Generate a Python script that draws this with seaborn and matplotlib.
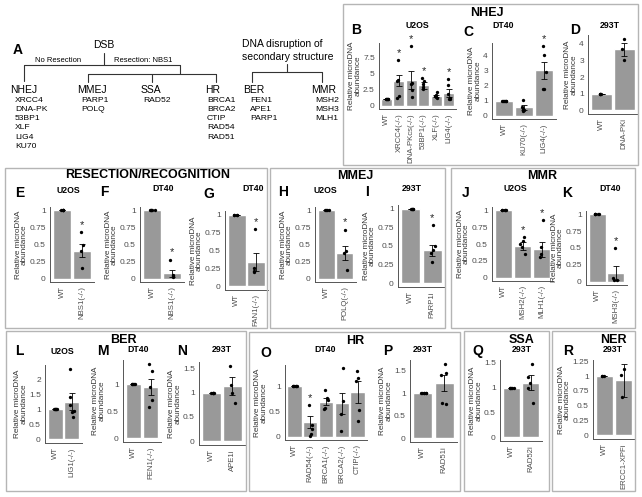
import warnings
import matplotlib
matplotlib.use("Agg")
import matplotlib.pyplot as plt
from matplotlib.lines import Line2D
from matplotlib.patches import Rectangle
import seaborn as sns
import pandas as pd
import numpy as np

warnings.filterwarnings("ignore")
np.random.seed(3)  # only for the horizontal jitter of the dots

# ---- data ----
# B: NHEJ, U2OS
b_labels = ["WT", "XRCC4(-/-)", "DNA-PKcs(-/-)", "53BP1(-/-)", "XLF(-/-)", "LIG4(-/-)"]
b_means = [1.0, 3.9, 4.0, 3.15, 1.55, 2.05]
b_sems = [0.0, 0.8, 1.4, 0.5, 0.2, 0.6]
b_points = [[1, 1, 1, 1, 1, 1], [7.0, 4.0, 3.8, 1.6, 1.3], [9.2, 3.6, 3.4, 2.4, 1.4],
            [4.3, 3.8, 3.3, 2.9, 2.6], [2.1, 1.7, 1.5, 1.4, 1.3], [4.1, 3.2, 1.8, 1.3, 1.1, 1.0]]
b_stars = [0, 1, 1, 1, 0, 1]
b_ticks = [0, 2.5, 5, 7.5]

# C: NHEJ, DT40
c_labels = ["WT", "KU70(-/-)", "LIG4(-/-)"]
c_means = [1.0, 0.55, 3.0]
c_sems = [0.0, 0.18, 0.55]
c_points = [[1, 1, 1, 1, 1, 1], [1.05, 0.6, 0.45, 0.35, 0.3], [4.6, 4.0, 2.9, 1.8, 1.8]]
c_stars = [0, 0, 1]
c_ticks = [0, 1, 2, 3, 4]

# D: NHEJ, 293T
d_labels = ["WT", "DNA-PKi"]
d_means = [1.0, 3.65]
d_sems = [0.0, 0.38]
d_points = [[1, 1, 1, 1], [4.3, 3.7, 3.0]]
d_stars = [0, 0]
d_ticks = [0, 1, 2, 3, 4]

# E-G: resection / recognition
e_labels = ["WT", "NBS1(-/-)"]
e_means = [1.0, 0.41]
e_sems = [0.0, 0.1]
e_points = [[1, 1, 1, 1, 1], [0.69, 0.5, 0.4, 0.15]]
e_stars = [0, 1]

f_labels = ["WT", "NBS1(-/-)"]
f_means = [1.0, 0.075]
f_sems = [0.0, 0.055]
f_points = [[1, 1, 1, 1, 1], [0.28, 0.05, 0.04, 0.02]]
f_stars = [0, 1]

g_labels = ["WT", "FAN1(-/-)"]
g_means = [1.0, 0.34]
g_sems = [0.0, 0.12]
g_points = [[1, 1, 1, 1], [0.8, 0.25, 0.22, 0.2]]
g_stars = [0, 1]

# H-I: MMEJ
h_labels = ["WT", "POLQ(-/-)"]
h_means = [1.0, 0.38]
h_sems = [0.0, 0.1]
h_points = [[1, 1, 1, 1], [0.72, 0.4, 0.37, 0.12]]
h_stars = [0, 1]

i_labels = ["WT", "PARP1i"]
i_means = [1.0, 0.44]
i_sems = [0.0, 0.07]
i_points = [[1, 1, 1, 1, 1], [0.78, 0.5, 0.45, 0.4, 0.28]]
i_stars = [0, 1]

# J-K: MMR
j_labels = ["WT", "MSH2(-/-)", "MLH1(-/-)"]
j_means = [1.0, 0.47, 0.42]
j_sems = [0.0, 0.06, 0.11]
j_points = [[1, 1, 1, 1, 1], [0.6, 0.55, 0.5, 0.45, 0.35], [0.85, 0.45, 0.35, 0.3]]
j_stars = [0, 1, 1]

k_labels = ["WT", "MSH3(-/-)"]
k_means = [1.0, 0.13]
k_sems = [0.0, 0.1]
k_points = [[1, 1, 1, 1, 1], [0.5, 0.05, 0.03, 0.02]]
k_stars = [0, 1]

frac_ticks = [0, 0.25, 0.5, 0.75, 1]

# L-N: BER
l_labels = ["WT", "LIG1(-/-)"]
l_means = [1.0, 1.25]
l_sems = [0.0, 0.28]
l_points = [[1, 1, 1, 1, 1, 1], [2.35, 1.4, 1.15, 0.95, 0.9, 0.75]]
l_ticks = [0, 0.5, 1, 1.5, 2]

m_labels = ["WT", "FEN1(-/-)"]
m_means = [1.0, 0.95]
m_sems = [0.0, 0.15]
m_points = [[1, 1, 1, 1, 1], [1.38, 1.25, 0.95, 0.7, 0.57]]
m_ticks = [0, 0.5, 1]

n_labels = ["WT", "APE1i"]
n_means = [1.0, 1.13]
n_sems = [0.0, 0.18]
n_points = [[1, 1, 1, 1, 1], [1.55, 1.15, 1.0, 0.78]]
n_ticks = [0, 0.5, 1, 1.5]

# O-P: HR
o_labels = ["WT", "RAD54(-/-)", "BRCA1(-/-)", "BRCA2(-/-)", "CTIP(-/-)"]
o_means = [1.0, 0.29, 0.69, 0.66, 0.89]
o_sems = [0.0, 0.12, 0.07, 0.21, 0.22]
o_points = [[1, 1, 1, 1, 1, 1], [0.63, 0.22, 0.15, 0.05, 0.02], [0.93, 0.77, 0.72, 0.55, 0.56],
            [1.35, 0.7, 0.45, 0.12], [1.3, 1.17, 1.1, 0.53, 0.3]]
o_stars = [0, 1, 0, 0, 0]
o_ticks = [0, 0.5, 1]

p_labels = ["WT", "RAD51i"]
p_means = [1.0, 1.22]
p_sems = [0.0, 0.18]
p_points = [[1, 1, 1, 1, 1, 1], [1.65, 1.45, 1.4, 0.78, 0.75]]
p_ticks = [0, 0.5, 1, 1.5]

# Q: SSA, R: NER
q_labels = ["WT", "RAD52i"]
q_means = [1.0, 1.1]
q_sems = [0.0, 0.15]
q_points = [[1, 1, 1, 1, 1], [1.48, 1.22, 1.1, 1.0, 0.68]]
q_ticks = [0, 0.5, 1, 1.5]

r_labels = ["WT", "ERCC1-XPFi"]
r_means = [1.0, 0.93]
r_sems = [0.0, 0.28]
r_points = [[1, 1, 1], [1.12, 1.02, 0.65]]
r_ticks = [0, 0.25, 0.5, 0.75, 1, 1.25]

# panel A tree text
nhej_genes = ["XRCC4", "DNA-PK", "53BP1", "XLF", "LIG4", "KU70"]
mmej_genes = ["PARP1", "POLQ"]
ssa_genes = ["RAD52"]
hr_genes = ["BRCA1", "BRCA2", "CTIP", "RAD54", "RAD51"]
ber_genes = ["FEN1", "APE1", "PARP1"]
mmr_genes = ["MSH2", "MSH3", "MLH1"]

# ---- style ----
W, H = 642, 497
BAR = "#999999"
AXC = "#555555"
TXT = "#4d4d4d"

sns.set_style("white")
plt.rcParams['font.family'] = ['Liberation Sans', 'DejaVu Sans']

fig = plt.figure(figsize=(W / 100, H / 100), dpi=100)


def ftext(x, y, s, size=6, weight='normal', ha='center', va='center', color='black'):
    fig.text(x / W, 1 - y / H, s, fontsize=size, fontweight=weight, ha=ha, va=va, color=color)


def fline(xs, ys):
    fig.add_artist(Line2D([x / W for x in xs], [1 - y / H for y in ys], color='#333333', lw=0.8))


def fbox(l, t, r, b):
    fig.add_artist(Rectangle((l / W, 1 - b / H), (r - l) / W, (b - t) / H, fill=False,
                             edgecolor='#b5b5b5', lw=1.0, transform=fig.transFigure))


def bar_panel(box, labels, means, sems, points, stars=None, ticks=frac_ticks):
    l, t, r, b = box
    ax = fig.add_axes([l / W, 1 - b / H, (r - l) / W, (b - t) / H])
    sns.barplot(x=labels, y=means, color=BAR, saturation=1, width=0.9, errorbar=None, ax=ax)
    ax.errorbar(range(len(labels)), means, yerr=sems, fmt='none', ecolor='black',
                elinewidth=0.6, capsize=2, capthick=0.6, zorder=3)
    rows = [(lab, v) for lab, pts in zip(labels, points) for v in pts]
    df = pd.DataFrame(rows, columns=['group', 'value'])
    sns.stripplot(data=df, x='group', y='value', order=labels, color='black', size=2.4,
                  jitter=0.14, linewidth=0, ax=ax, zorder=4)
    tops = [max(max(p), m + s) for p, m, s in zip(points, means, sems)]
    top = max(tops)
    ax.set_ylim(-0.05 * top, 1.05 * top)
    ax.set_xlim(-0.6, len(labels) - 0.4)
    if stars:
        for i, flag in enumerate(stars):
            if flag:
                ax.annotate('*', xy=(i, max(points[i])), xytext=(0, 5), textcoords='offset points',
                            ha='center', va='center', fontsize=8, annotation_clip=False)
    ax.set_yticks(ticks)
    ax.set_yticklabels([f"{v:g}" for v in ticks])
    ax.set_xlabel('')
    ax.set_ylabel("Relative microDNA\nabundance", fontsize=5.9, linespacing=0.85,
                  labelpad=1.0, color='#333333')
    ax.tick_params(axis='both', length=2, width=0.6, color=AXC, labelcolor=TXT, pad=1)
    ax.tick_params(axis='y', labelsize=6.0)
    ax.tick_params(axis='x', labelsize=5.6, rotation=90)
    sns.despine(ax=ax)
    for side in ['left', 'bottom']:
        ax.spines[side].set_color(AXC)
        ax.spines[side].set_linewidth(0.7)
    ax.set_facecolor('white')
    return ax


# ---- panel A: pathway tree ----
ftext(13, 50, "A", size=10, weight='bold', ha='left')
ftext(104, 45, "DSB", size=7.5)
ftext(58, 61, "No Resection", size=5.5)
ftext(143, 61, "Resection: NBS1", size=5.5)
fline([104, 104], [53, 65])
fline([24, 180], [65, 65])
fline([24, 24], [65, 81])
fline([180, 180], [65, 74])
fline([88, 216], [74, 74])
for xd in [88, 152, 216]:
    fline([xd, xd], [74, 82])

ftext(242, 44, "DNA disruption of", size=7.5, ha='left')
ftext(242, 57, "secondary structure", size=7.5, ha='left')
fline([287, 287], [64, 72])
fline([252, 322], [72, 72])
for xd in [252, 322]:
    fline([xd, xd], [72, 82])

for x0, name, genes, gx in [(10, "NHEJ", nhej_genes, 15), (77, "MMEJ", mmej_genes, 81),
                            (205, "HR", hr_genes, 207), (243, "BER", ber_genes, 250),
                            (311, "MMR", mmr_genes, 315)]:
    ftext(x0, 90, name, size=7.5, ha='left')
    for k, gname in enumerate(genes):
        ftext(gx, 100 + 9.3 * k, gname, size=6.1, ha='left')
ftext(151, 90, "SSA", size=7.5)
for k, gname in enumerate(ssa_genes):
    ftext(157, 100 + 9.3 * k, gname, size=6.1)

# ---- group boxes and headers ----
fbox(343, 4, 638, 165)
fbox(5, 168, 267, 328)
fbox(270, 168, 445, 328)
fbox(451, 168, 635, 328)
fbox(6, 331, 246, 491)
fbox(249, 332, 460, 491)
fbox(464, 331, 549, 491)
fbox(552, 331, 635, 491)

ftext(487, 13, "NHEJ", size=9, weight='bold')
ftext(148, 175, "RESECTION/RECOGNITION", size=9, weight='bold')
ftext(355, 176, "MMEJ", size=9, weight='bold')
ftext(542, 176, "MMR", size=9, weight='bold')
ftext(123, 340, "BER", size=9, weight='bold')
ftext(355, 341, "HR", size=9, weight='bold')
ftext(522, 340, "SSA", size=9, weight='bold')
ftext(613, 340, "NER", size=9, weight='bold')

# panel letters and cell-line titles
letters = [("B", 351, 30), ("C", 463, 32), ("D", 570, 30),
           ("E", 15, 193), ("F", 100, 192), ("G", 203, 194), ("H", 278, 192),
           ("I", 365, 192), ("J", 462, 193), ("K", 562, 193),
           ("L", 15, 351), ("M", 97, 351), ("N", 177, 351), ("O", 260, 353),
           ("P", 383, 351), ("Q", 472, 351), ("R", 563, 351)]
for s, x, y in letters:
    ftext(x, y, s, size=10, weight='bold', ha='left')

cells = [("U2OS", 417, 26), ("DT40", 503, 26), ("293T", 610, 26),
         ("U2OS", 68, 190), ("DT40", 163, 189), ("DT40", 253, 189), ("U2OS", 325, 190),
         ("293T", 412, 189), ("U2OS", 515, 189), ("DT40", 610, 189),
         ("U2OS", 62, 351), ("DT40", 138, 350), ("293T", 222, 350), ("DT40", 325, 350),
         ("293T", 423, 350), ("293T", 522, 350), ("293T", 613, 350)]
for s, x, y in cells:
    ftext(x, y, s, size=6.3, weight='bold')

# ---- bar panels ----
bar_panel((379, 43, 456, 109), b_labels, b_means, b_sems, b_points, b_stars, b_ticks)
bar_panel((492, 43, 556, 119), c_labels, c_means, c_sems, c_points, c_stars, c_ticks)
bar_panel((588, 35, 638, 114), d_labels, d_means, d_sems, d_points, d_stars, d_ticks)

bar_panel((50, 207, 94, 282), e_labels, e_means, e_sems, e_points, e_stars)
bar_panel((140, 207, 184, 282), f_labels, f_means, f_sems, f_points, f_stars)
bar_panel((225, 211, 268, 290), g_labels, g_means, g_sems, g_points, g_stars)
bar_panel((315, 207, 356, 282), h_labels, h_means, h_sems, h_points, h_stars)
bar_panel((398, 205, 445, 287), i_labels, i_means, i_sems, i_points, i_stars)
bar_panel((492, 207, 553, 281), j_labels, j_means, j_sems, j_points, j_stars)
bar_panel((586, 211, 627, 285), k_labels, k_means, k_sems, k_points, k_stars)

bar_panel((45, 365, 82, 443), l_labels, l_means, l_sems, l_points, None, l_ticks)
bar_panel((123, 360, 161, 442), m_labels, m_means, m_sems, m_points, None, m_ticks)
bar_panel((199, 362, 245, 445), n_labels, n_means, n_sems, n_points, None, n_ticks)
bar_panel((285, 365, 367, 440), o_labels, o_means, o_sems, o_points, o_stars, o_ticks)
bar_panel((410, 360, 457, 442), p_labels, p_means, p_sems, p_points, None, p_ticks)
bar_panel((500, 360, 542, 441), q_labels, q_means, q_sems, q_points, None, q_ticks)
bar_panel((593, 360, 635, 439), r_labels, r_means, r_sems, r_points, None, r_ticks)

fig.savefig("out.png", dpi=100, facecolor='white')
